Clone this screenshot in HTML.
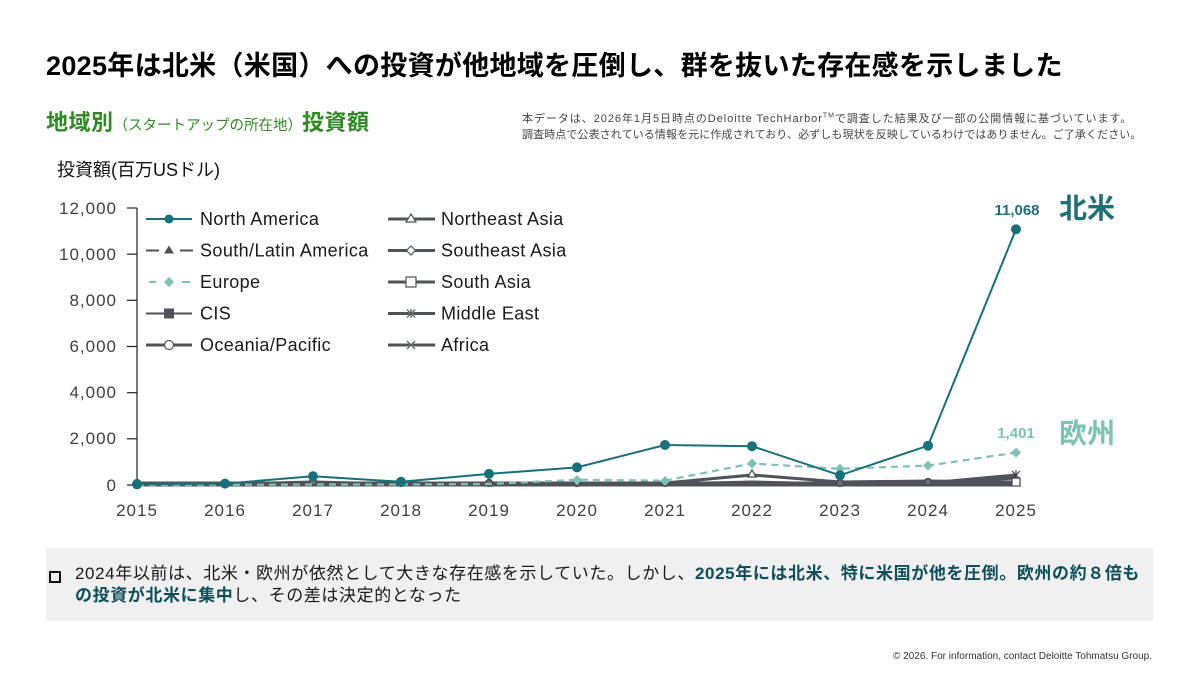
<!DOCTYPE html>
<html><head><meta charset="utf-8">
<style>
html,body{margin:0;padding:0;background:#fff;}
body{width:1200px;height:675px;position:relative;overflow:hidden;font-family:"Liberation Sans","Noto Sans CJK JP",sans-serif;}
.a{position:absolute;white-space:nowrap;}
</style></head><body>

<div class="a" style="left:46px;top:48px;font-size:27px;line-height:36px;font-weight:bold;color:#000;letter-spacing:0.3px;">2025年は北米（米国）への投資が他地域を圧倒し、群を抜いた存在感を示しました</div>

<div class="a" style="left:46px;top:109px;line-height:28px;color:#2e8b22;font-weight:bold;"><span style="font-size:22px;letter-spacing:0.5px;">地域別</span><span style="font-size:14.5px;font-weight:normal;">（スタートアップの所在地）</span><span style="font-size:22px;letter-spacing:0.5px;">投資額</span></div>

<div class="a" style="left:522px;top:108px;font-size:11px;line-height:16px;color:#444;"><span style="letter-spacing:0.95px;">本データは、2026年1月5日時点のDeloitte TechHarbor<sup style="font-size:7px;">TM</sup>で調査した結果及び一部の公開情報に基づいています。</span><br><span style="letter-spacing:0.1px;">調査時点で公表されている情報を元に作成されており、必ずしも現状を反映しているわけではありません。ご了承ください。</span></div>

<div class="a" style="left:57px;top:158px;font-size:18px;line-height:24px;color:#111;">投資額(百万USドル)</div>

<svg class="a" style="left:0;top:0;" width="1200" height="675" viewBox="0 0 1200 675" xmlns="http://www.w3.org/2000/svg">
<g font-family="Liberation Sans, sans-serif" font-size="17" fill="#404040" letter-spacing="1">
<text x="117" y="214" text-anchor="end">12,000</text>
<text x="117" y="260" text-anchor="end">10,000</text>
<text x="117" y="306" text-anchor="end">8,000</text>
<text x="117" y="352" text-anchor="end">6,000</text>
<text x="117" y="398" text-anchor="end">4,000</text>
<text x="117" y="444" text-anchor="end">2,000</text>
<text x="117" y="491" text-anchor="end">0</text>
<text x="137" y="516" text-anchor="middle">2015</text>
<text x="225" y="516" text-anchor="middle">2016</text>
<text x="313" y="516" text-anchor="middle">2017</text>
<text x="401" y="516" text-anchor="middle">2018</text>
<text x="489" y="516" text-anchor="middle">2019</text>
<text x="577" y="516" text-anchor="middle">2020</text>
<text x="665" y="516" text-anchor="middle">2021</text>
<text x="752" y="516" text-anchor="middle">2022</text>
<text x="840" y="516" text-anchor="middle">2023</text>
<text x="928" y="516" text-anchor="middle">2024</text>
<text x="1016" y="516" text-anchor="middle">2025</text>
</g>
<g stroke="#222" stroke-width="1.2">
<line x1="137" y1="208" x2="137" y2="485"/>
<line x1="127" y1="208" x2="137" y2="208"/>
<line x1="127" y1="254.2" x2="137" y2="254.2"/>
<line x1="127" y1="300.3" x2="137" y2="300.3"/>
<line x1="127" y1="346.5" x2="137" y2="346.5"/>
<line x1="127" y1="392.7" x2="137" y2="392.7"/>
<line x1="127" y1="438.8" x2="137" y2="438.8"/>
<line x1="127" y1="485" x2="137" y2="485"/>
</g>

<!-- gray series -->
<g fill="none" stroke="#4f5358" stroke-width="3" stroke-linejoin="round">
<polyline points="137,484 225,484 313,484 401,484 489,484 577,484 665,484 752,484 840,484 928,484 1016,484"/>
<polyline points="137,483 225,483 313,483 401,483 489,483 577,483 665,483 752,483 840,483 928,483 1016,483"/>
<polyline points="137,484 225,484 313,482 401,484 489,484 577,483 665,483 752,475 840,482 928,481 1016,482"/>
<polyline points="137,485 225,485 313,485 401,485 489,485 577,484 665,484 752,483 840,483 928,483 1016,475"/>
<polyline points="137,485 225,485 313,485 401,485 489,485 577,485 665,484 752,482 840,484 928,483 1016,478"/>
<polyline points="137,485 225,485 313,485 401,485 489,485 577,485 665,485 752,485 840,485 928,485 1016,485"/>
</g>
<g fill="#6a6e73" stroke="#3f4347" stroke-width="1.2">
<circle cx="137" cy="483" r="3.5"/><circle cx="225" cy="483" r="3.5"/><circle cx="313" cy="482" r="3.5"/><circle cx="401" cy="483" r="3.5"/><circle cx="489" cy="483" r="3.5"/><circle cx="577" cy="483" r="3.5"/><circle cx="665" cy="483" r="3.5"/><circle cx="840" cy="483" r="3.5"/><circle cx="928" cy="482" r="3.5"/>
<rect x="1012" y="478" width="8" height="8" fill="#fff"/>
<path d="M752,470 l4,7 h-8z" fill="#fff"/><path d="M1012,471 l8,8 M1020,471 l-8,8 M1016,470 v9" fill="none"/>
</g>

<!-- Europe -->
<polyline fill="none" stroke="#7cc3b6" stroke-width="2.2" stroke-dasharray="7,5" points="137,485 225,484.8 313,484.5 401,484.5 489,484 577,479.7 665,480.6 752,463.5 840,468.8 928,465.6 1016,452.6"/>
<g fill="#7cc3b6">
<path d="M577,475 l5,5 l-5,5 l-5,-5z"/><path d="M665,476 l5,5 l-5,5 l-5,-5z"/><path d="M752,458.5 l5,5 l-5,5 l-5,-5z"/><path d="M840,463.8 l5,5 l-5,5 l-5,-5z"/><path d="M928,460.6 l5,5 l-5,5 l-5,-5z"/><path d="M1016,447.6 l5,5 l-5,5 l-5,-5z"/>
</g>

<!-- North America -->
<polyline fill="none" stroke="#17707a" stroke-width="2" stroke-linejoin="round" points="137,484.3 225,483.6 313,476.2 401,481.8 489,473.9 577,467.4 665,445 752,446.2 840,475.3 928,445.7 1016,229.3"/>
<g fill="#17707a">
<circle cx="137" cy="484.3" r="5"/><circle cx="225" cy="483.6" r="5"/><circle cx="313" cy="476.2" r="5"/><circle cx="401" cy="481.8" r="5"/><circle cx="489" cy="473.9" r="5"/><circle cx="577" cy="467.4" r="5"/><circle cx="665" cy="445" r="5"/><circle cx="752" cy="446.2" r="5"/><circle cx="840" cy="475.3" r="5"/><circle cx="928" cy="445.7" r="5"/><circle cx="1016" cy="229.3" r="5"/>
</g>

<!-- annotations -->
<text x="1017" y="215" text-anchor="middle" font-family="Liberation Sans, sans-serif" font-weight="bold" font-size="15" fill="#1d6f78">11,068</text>
<text x="1059" y="218" font-family="Liberation Sans, Noto Sans CJK JP, sans-serif" font-weight="bold" font-size="28" fill="#1d6f78">北米</text>
<text x="1016" y="438" text-anchor="middle" font-family="Liberation Sans, sans-serif" font-weight="bold" font-size="15" fill="#7cc3b6">1,401</text>
<text x="1059" y="443" font-family="Liberation Sans, Noto Sans CJK JP, sans-serif" font-weight="bold" font-size="28" fill="#7cc3b6">欧州</text>

<!-- legend -->
<g font-family="Liberation Sans, sans-serif" font-size="18" fill="#1a1a1a" letter-spacing="0.4">
<text x="200" y="225">North America</text>
<text x="200" y="256.5">South/Latin America</text>
<text x="200" y="288">Europe</text>
<text x="200" y="319.5">CIS</text>
<text x="200" y="351">Oceania/Pacific</text>
<text x="441" y="225">Northeast Asia</text>
<text x="441" y="256.5">Southeast Asia</text>
<text x="441" y="288">South Asia</text>
<text x="441" y="319.5">Middle East</text>
<text x="441" y="351">Africa</text>
</g>
<line x1="146" y1="219" x2="192" y2="219" stroke="#17707a" stroke-width="2"/>
<circle cx="169" cy="219" r="4.5" fill="#17707a"/>
<line x1="146" y1="250.5" x2="159" y2="250.5" stroke="#4f5358" stroke-width="2"/>
<line x1="180" y1="250.5" x2="193" y2="250.5" stroke="#4f5358" stroke-width="2"/>
<path d="M169,245.5 l5,8 h-10z" fill="#4f5358"/>
<line x1="149" y1="282" x2="156" y2="282" stroke="#7cc3b6" stroke-width="2"/>
<line x1="182" y1="282" x2="190" y2="282" stroke="#7cc3b6" stroke-width="2"/>
<path d="M169,277 l5,5 l-5,5 l-5,-5z" fill="#7cc3b6"/>
<line x1="146" y1="313.5" x2="192" y2="313.5" stroke="#4f5358" stroke-width="2"/>
<rect x="164" y="308.5" width="10" height="10" fill="#4f5358"/>
<line x1="146" y1="345" x2="192" y2="345" stroke="#4f5358" stroke-width="3"/>
<circle cx="169" cy="345" r="4.5" fill="#fff" stroke="#4f5358" stroke-width="1.2"/>
<g stroke="#4f5358" stroke-width="3">
<line x1="388" y1="219" x2="435" y2="219"/>
<line x1="388" y1="250.5" x2="435" y2="250.5"/>
<line x1="388" y1="282" x2="435" y2="282"/>
<line x1="388" y1="313.5" x2="435" y2="313.5"/>
<line x1="388" y1="345" x2="435" y2="345"/>
</g>
<path d="M411,214 l5,8 h-10z" fill="#fff" stroke="#4f5358" stroke-width="1.2"/>
<path d="M411,246 l4.5,4.5 l-4.5,4.5 l-4.5,-4.5z" fill="#fff" stroke="#4f5358" stroke-width="1.2"/>
<rect x="406" y="277" width="10" height="10" fill="#fff" stroke="#4f5358" stroke-width="1.2"/>
<g stroke="#fff" stroke-width="1.5" fill="none">
<path d="M407,309.5 l8,8 M415,309.5 l-8,8 M411,309 v9"/>
<path d="M407,341 l8,8 M415,341 l-8,8"/>
</g>
<g stroke="#4f5358" stroke-width="1.2" fill="none">
<path d="M407,309.5 l8,8 M415,309.5 l-8,8 M411,309 v9"/>
<path d="M407,341 l8,8 M415,341 l-8,8"/>
</g>
</svg>

<div class="a" style="left:46px;top:548px;width:1107px;height:73px;background:#f0f0f0;"></div>
<div class="a" style="left:49px;top:571px;width:8px;height:8px;border:2.5px solid #111;"></div>
<div class="a" style="left:75px;top:563px;font-size:17px;line-height:22px;color:#1a1a1a;letter-spacing:0.6px;">2024年以前は、北米・欧州が依然として大きな存在感を示していた。しかし、<b style="color:#0e4f5a;">2025年には北米、特に米国が他を圧倒。欧州の約８倍も</b><br><b style="color:#0e4f5a;">の投資が北米に集中</b>し、その差は決定的となった</div>

<div class="a" style="right:48px;top:650px;font-size:10px;line-height:14px;color:#333;">© 2026. For information, contact Deloitte Tohmatsu Group.</div>

</body></html>
